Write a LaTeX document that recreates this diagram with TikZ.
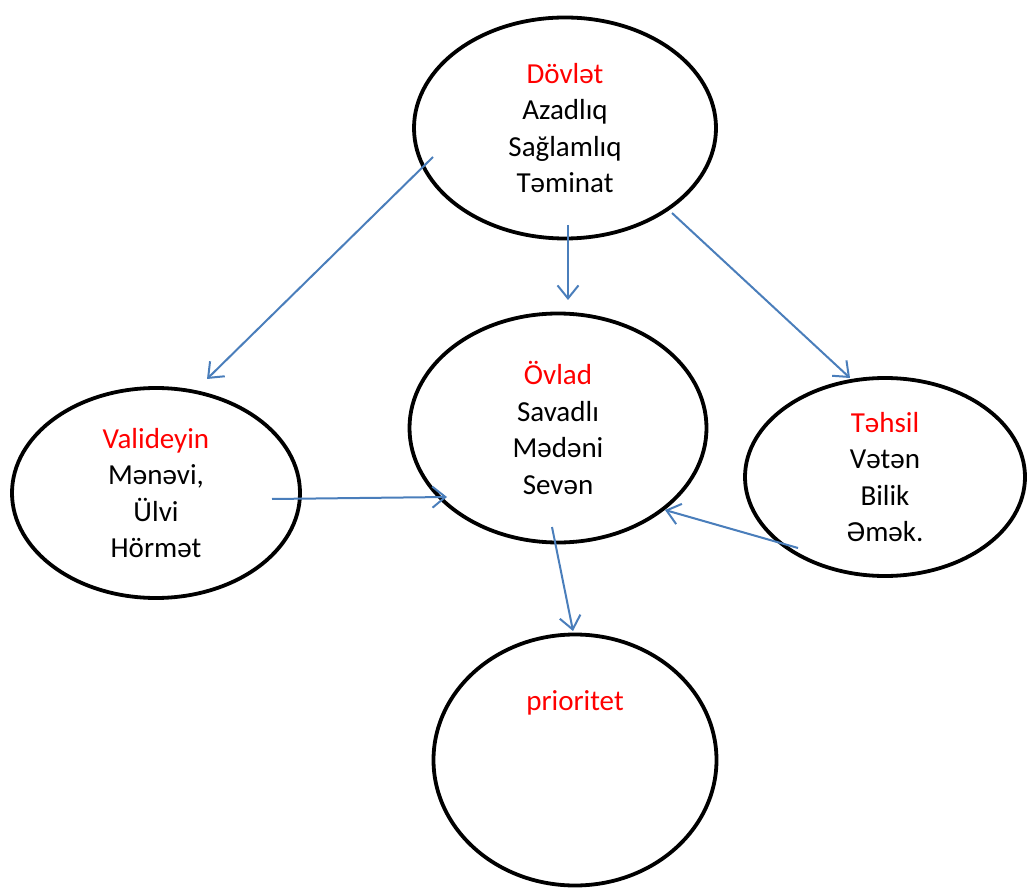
\documentclass[tikz,border=0pt]{standalone}
\usepackage{fontspec}
\setmainfont{Carlito}
\usetikzlibrary{shapes.geometric, arrows.meta, calc}

\definecolor{linkblue}{RGB}{74,126,187}

\tikzset{
    ell/.style={draw, ellipse, line width=3.8pt, inner sep=0pt, align=center,
        font=\fontsize{29}{36.5}\selectfont},
    arr/.style={draw=linkblue, line width=2pt,
        -{Straight Barb[length=13pt, width=21pt, line width=2pt]}},
    ttl/.style={text=red}
}

\begin{document}
\begin{tikzpicture}[x=1pt, y=-1pt, node distance=300pt]
    \useasboundingbox (0,0) rectangle (1028,890);

    % top
    \node (dov) [ell, minimum width=302pt, minimum height=221pt] at (565,128)
        {\textcolor{red}{Dövlət}\\Azadlıq\\Sağlamlıq\\Təminat};

    % middle row
    \node (ovl) [ell, below of=dov, xshift=-7pt, minimum width=297pt, minimum height=229pt]
        {\textcolor{red}{Övlad}\\Savadlı\\Mədəni\\Sevən};
    \node (val) [ell, left of=ovl, xshift=-102pt, yshift=-65pt, minimum width=288pt, minimum height=210pt]
        {\textcolor{red}{Valideyin}\\Mənəvi,\\Ülvi\\Hörmət};
    \node (teh) [ell, right of=ovl, xshift=27pt, yshift=-49pt, minimum width=280pt, minimum height=198pt]
        {\textcolor{red}{Təhsil}\\Vətən\\Bilik\\Əmək.};

    % bottom
    \node (pri) [ell, below of=ovl, xshift=17pt, yshift=-32pt, minimum width=283pt, minimum height=251pt] {};
    \node (prilbl) [ttl, above of=pri, node distance=57pt, font=\fontsize{29}{36.5}\selectfont] {prioritet};

    % arrow ends
    \coordinate (dovA) at ($(dov)+(-132,29)$);
    \coordinate (dovB) at ($(dov)+(3,97)$);
    \coordinate (dovC) at ($(dov)+(107,85)$);
    \coordinate (valIn) at ($(val)+(51,-114)$);
    \coordinate (valOut) at ($(val)+(116,6)$);
    \coordinate (ovlTop) at ($(ovl)+(10,-128)$);
    \coordinate (ovlL) at ($(ovl)+(-111,69)$);
    \coordinate (ovlR) at ($(ovl)+(107,82)$);
    \coordinate (ovlOut) at ($(ovl)+(-6,99)$);
    \coordinate (tehIn) at ($(teh)+(-35,-99)$);
    \coordinate (tehOut) at ($(teh)+(-87,71)$);
    \coordinate (priIn) at ($(pri)+(-2,-129)$);

    % Arrows
    \draw[arr] (dovA) -- (valIn);
    \draw[arr] (dovB) -- (ovlTop);
    \draw[arr] (dovC) -- (tehIn);
    \draw[arr] (valOut) -- (ovlL);
    \draw[arr] (tehOut) -- (ovlR);
    \draw[arr] (ovlOut) -- (priIn);
\end{tikzpicture}
\end{document}
